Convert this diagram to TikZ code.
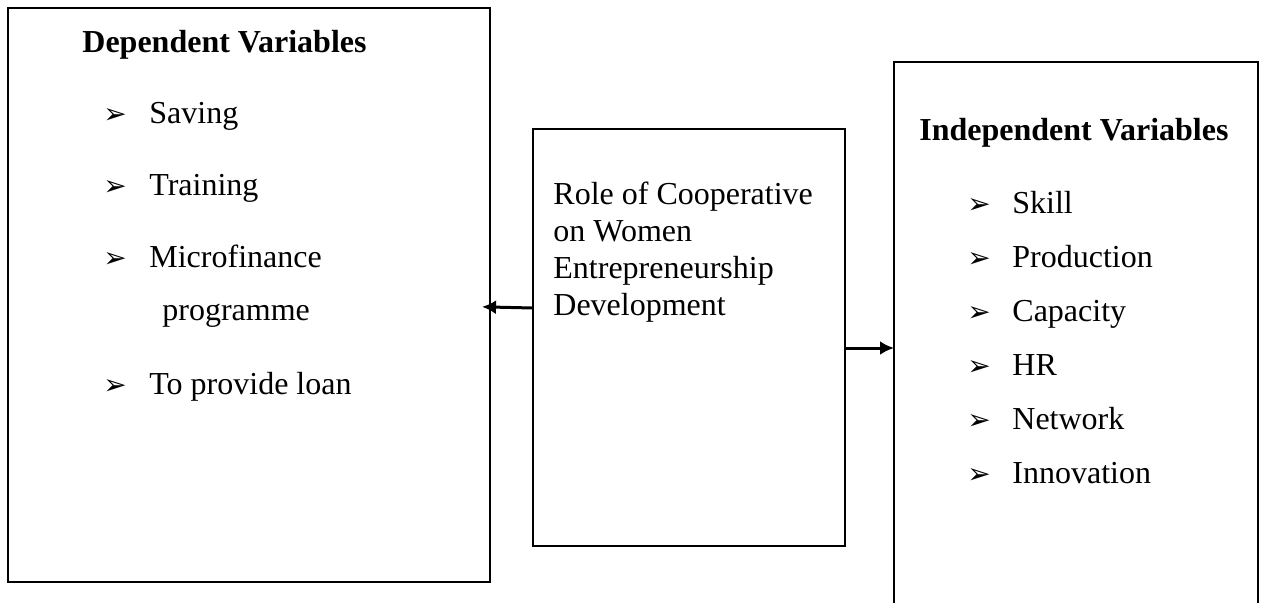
\documentclass[tikz,border=0pt]{standalone}
\usepackage{fontspec}
\setmainfont{Liberation Serif}
\newfontfamily\symfont{DejaVu Sans}
\usetikzlibrary{positioning,arrows.meta}
\tikzset{
  panel/.style={draw, line width=1pt, inner sep=0pt, outer sep=0pt, anchor=north west},
  item/.style={anchor=base west, inner sep=0pt, font=\fontsize{16}{19}\selectfont},
  head/.style={item, font=\fontsize{16}{19}\selectfont\bfseries},
  bul/.style={anchor=base west, inner sep=0pt, font=\symfont\fontsize{14}{16}\selectfont},
  link/.style={line width=1.5pt, -{Latex[length=7pt,width=7pt]}}
}
\begin{document}
\begin{tikzpicture}[x=0.5pt, y=-0.5pt]
  \useasboundingbox (0,0) rectangle (1264,602);
  \node[panel, minimum width=241pt, minimum height=287pt] (dep) at (8,8) {};
  \node[panel, minimum width=156pt, minimum height=208.5pt] (role) at (533,129) {};
  \node[panel, minimum width=182pt, minimum height=280pt] (indep) at (894,62) {};

  \node[head] (dephead) at (82,52) {Dependent Variables};
  \node[item] (sav) at (149,123) {Saving};
  \node[bul] at ([xshift=-23pt]sav.base west) {➢};
  \node[item] (tra) at (149,195) {Training};
  \node[bul] at ([xshift=-23pt]tra.base west) {➢};
  \node[item] (mic) at (149,267) {Microfinance};
  \node[bul] at ([xshift=-23pt]mic.base west) {➢};
  \node[item] (prog) at (162,320) {programme};
  \node[item] (loan) at (149,394) {To provide loan};
  \node[bul] at ([xshift=-23pt]loan.base west) {➢};

  \node[item, align=left, font=\fontsize{16}{18.5}\selectfont] (roletext) at (553,315)
    {Role of Cooperative\\on Women\\Entrepreneurship\\Development};

  \node[head] (indhead) at (919,140) {Independent Variables};
  \node[item] (ski) at (1012,213) {Skill};
  \node[bul] at ([xshift=-22.5pt]ski.base west) {➢};
  \node[item] (pro) at (1012,267) {Production};
  \node[bul] at ([xshift=-22.5pt]pro.base west) {➢};
  \node[item] (cap) at (1012,321) {Capacity};
  \node[bul] at ([xshift=-22.5pt]cap.base west) {➢};
  \node[item] (hr) at (1012,375) {HR};
  \node[bul] at ([xshift=-22.5pt]hr.base west) {➢};
  \node[item] (net) at (1012,429) {Network};
  \node[bul] at ([xshift=-22.5pt]net.base west) {➢};
  \node[item] (inn) at (1012,483) {Innovation};
  \node[bul] at ([xshift=-22.5pt]inn.base west) {➢};

  \draw[link, shorten >=-4pt] (role.west |- 0,308) -- (dep.east |- 0,307);
  \draw[link] (role.east |- 0,348) -- (indep.west |- 0,348);
\end{tikzpicture}
\end{document}
